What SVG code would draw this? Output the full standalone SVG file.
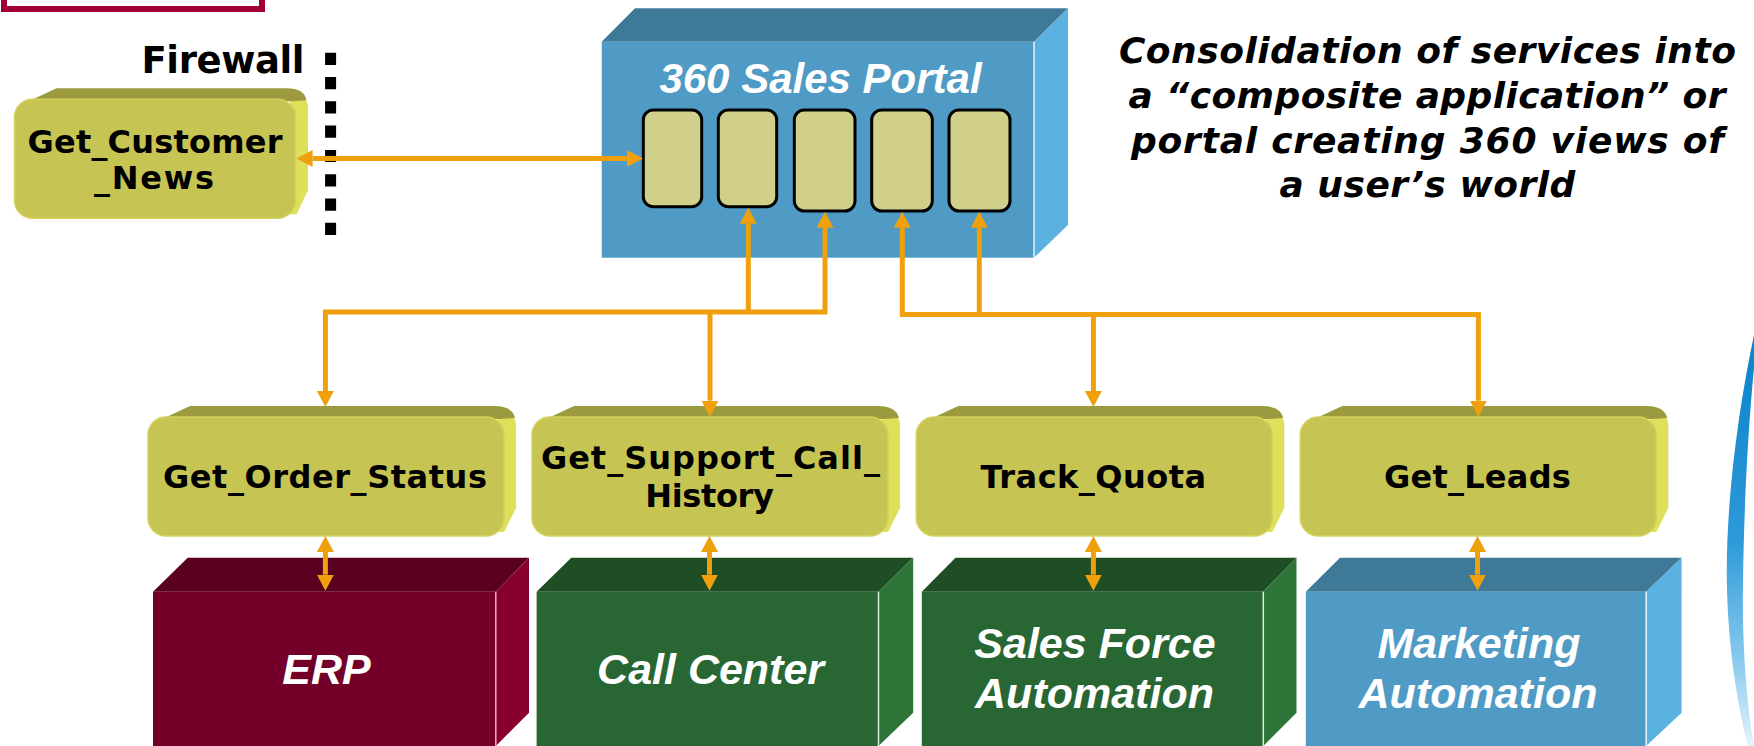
<svg xmlns="http://www.w3.org/2000/svg" width="1754" height="746" viewBox="0 0 1754 746">
<style>
.svc{font-family:"DejaVu Sans",Verdana,sans-serif;font-weight:bold;font-size:32px;fill:#000;text-anchor:middle}
.sys{font-family:"Liberation Sans",Arial,sans-serif;font-weight:bold;font-style:italic;font-size:43px;fill:#fff;text-anchor:middle}
.desc{font-family:"DejaVu Sans",Verdana,sans-serif;font-weight:bold;font-style:italic;font-size:36px;fill:#000;text-anchor:middle}
.conn{fill:none;stroke:#f0a00c;stroke-width:5}
.yf{fill:#c6c453;stroke:#d3d25e;stroke-width:1.5}
.yt{fill:#9c9a3e}
.yr{fill:#dfdf5a}
.slot{fill:#d0d08a;stroke:#000;stroke-width:3}
</style>
<defs>
<marker id="ah" viewBox="0 0 16 17" refX="0" refY="8.5" markerWidth="16" markerHeight="17" markerUnits="userSpaceOnUse" orient="auto-start-reverse">
<path d="M0,0 L16,8.5 L0,17 Z" fill="#f0a00c"/>
</marker>
<g id="svc368">
<path class="yr" d="M350,6 Q366,4 368,18 L368,102 L356,126 L348,126 Z"/>
<path class="yt" d="M12,14 L42,0 L346,0 Q364,0 367,12 L352,13 Z"/>
<rect class="yf" x="0" y="11" width="356" height="119" rx="18"/>
</g>
<linearGradient id="sw" x1="0" y1="0" x2="0" y2="1">
<stop offset="0" stop-color="#0a82cb"/>
<stop offset="0.5" stop-color="#2d9ad9"/>
<stop offset="0.8" stop-color="#8ccbef"/>
<stop offset="1" stop-color="#e4f3fc"/>
</linearGradient>
</defs>

<rect x="4" y="-60" width="258" height="69" fill="none" stroke="#a00035" stroke-width="6"/>

<g id="firewall">
<text x="223" y="72.7" class="svc" style="font-size:37px" textLength="163">Firewall</text>
<line x1="330.6" y1="52.7" x2="330.6" y2="235" stroke="#000" stroke-width="11" stroke-dasharray="12.2 12.1"/>
</g>

<g id="portal">
<polygon points="601.7,41.7 635,8.3 1068,8.3 1034,41.7" fill="#3e7998"/>
<polygon points="1034,41.7 1068,8.3 1068,225 1034,257.7" fill="#5bb2e1"/>
<rect x="601.7" y="41.7" width="432.3" height="216" fill="#4f9bc5"/>
<line x1="1034" y1="41.7" x2="1034" y2="257.7" stroke="#e6f3fa" stroke-width="1.5"/>
<text x="820.5" y="93.3" class="sys" style="font-size:42px">360 Sales Portal</text>
<rect class="slot" x="643.3" y="110" width="58.4" height="96.7" rx="10"/>
<rect class="slot" x="718.3" y="110" width="58.4" height="96.7" rx="10"/>
<rect class="slot" x="794.3" y="110" width="60.7" height="101" rx="10"/>
<rect class="slot" x="871.7" y="110" width="60.6" height="101" rx="10"/>
<rect class="slot" x="949" y="110" width="61" height="101" rx="10"/>
</g>

<g id="desc">
<text x="1427.4" y="63.3" class="desc" textLength="617">Consolidation of services into</text>
<text x="1427" y="108.3" class="desc" textLength="597">a “composite application” or</text>
<text x="1427.5" y="152.7" class="desc" textLength="593">portal creating 360 views of</text>
<text x="1427.4" y="196.7" class="desc" textLength="296">a user’s world</text>
</g>

<g id="get-customer-news">
<g transform="translate(14.5,88.3)">
<path class="yr" d="M276,6 Q291,4 293.5,18 L293.5,102 L282,126 L274,126 Z"/>
<path class="yt" d="M12,14 L42,0 L272,0 Q290,0 292,12 L278,13 Z"/>
<rect class="yf" x="0" y="11" width="281" height="119" rx="18"/>
</g>
<text x="155" y="153.3" class="svc" textLength="255">Get_Customer</text>
<text x="154" y="189.3" class="svc" textLength="120">_News</text>
</g>

<g id="erp">
<polygon points="153,591.7 187.7,557.7 529,557.7 495.8,591.7" fill="#5a0020"/>
<polygon points="495.8,591.7 529,557.7 529,712.7 495.8,746" fill="#870030"/>
<rect x="153" y="591.7" width="342.8" height="160" fill="#730028"/>
<line x1="495.8" y1="591.7" x2="495.8" y2="746" stroke="#f0a8c8" stroke-width="1.5"/>
<text x="326.5" y="684" class="sys">ERP</text>
</g>

<g id="call-center">
<polygon points="536.6,591.7 571.3,557.7 913.2,557.7 878.5,591.7" fill="#1f4d24"/>
<polygon points="878.5,591.7 913.2,557.7 913.2,712.7 878.5,746" fill="#2e7438"/>
<rect x="536.6" y="591.7" width="341.9" height="160" fill="#286634"/>
<line x1="878.5" y1="591.7" x2="878.5" y2="746" stroke="#d8eed8" stroke-width="1.5"/>
<text x="710.6" y="684" class="sys">Call Center</text>
</g>

<g id="sales-force-automation">
<polygon points="921.8,591.7 955.5,557.7 1296.5,557.7 1263.3,591.7" fill="#1f4d24"/>
<polygon points="1263.3,591.7 1296.5,557.7 1296.5,712.7 1263.3,746" fill="#2e7438"/>
<rect x="921.8" y="591.7" width="341.5" height="160" fill="#286634"/>
<line x1="1263.3" y1="591.7" x2="1263.3" y2="746" stroke="#d8eed8" stroke-width="1.5"/>
<text x="1095" y="658.3" class="sys">Sales Force</text>
<text x="1094.5" y="708.3" class="sys">Automation</text>
</g>

<g id="marketing-automation">
<polygon points="1305.8,591.7 1340,557.7 1681.6,557.7 1646.2,591.7" fill="#3e7998"/>
<polygon points="1646.2,591.7 1681.6,557.7 1681.6,712.7 1646.2,746" fill="#5bb2e1"/>
<rect x="1305.8" y="591.7" width="340.4" height="160" fill="#4f9bc5"/>
<line x1="1646.2" y1="591.7" x2="1646.2" y2="746" stroke="#e6f3fa" stroke-width="1.5"/>
<text x="1479" y="658.3" class="sys">Marketing</text>
<text x="1478" y="708.3" class="sys">Automation</text>
</g>

<g id="get-order-status">
<use href="#svc368" transform="translate(148,406)"/>
<text x="325" y="487.7" class="svc" textLength="324">Get_Order_Status</text>
</g>
<g id="get-support-call-history">
<use href="#svc368" transform="translate(532,406)"/>
<text x="710.4" y="469.3" class="svc" textLength="339">Get_Support_Call_</text>
<text x="709.6" y="506.7" class="svc" textLength="128.6">History</text>
</g>
<g id="track-quota">
<use href="#svc368" transform="translate(916.3,406)"/>
<text x="1093.3" y="487.7" class="svc" textLength="225.5">Track_Quota</text>
</g>
<g id="get-leads">
<use href="#svc368" transform="translate(1300.3,406)"/>
<text x="1477.4" y="487.7" class="svc" textLength="187">Get_Leads</text>
</g>

<g id="connectors">
<path class="conn" d="M312.6,158.5 L627,158.5" marker-start="url(#ah)" marker-end="url(#ah)"/>
<path class="conn" d="M748.3,223.7 V312" marker-start="url(#ah)"/>
<path class="conn" d="M825,227.7 V312 H325.4 V391" marker-start="url(#ah)" marker-end="url(#ah)"/>
<path class="conn" d="M710,312 V400.7" marker-end="url(#ah)"/>
<path class="conn" d="M902.3,227.7 V314.5 H1478.4 V400.7" marker-start="url(#ah)" marker-end="url(#ah)"/>
<path class="conn" d="M979.3,227.7 V314.5" marker-start="url(#ah)"/>
<path class="conn" d="M1093.4,314.5 V391" marker-end="url(#ah)"/>
<path class="conn" d="M325.4,552 V574.7" marker-start="url(#ah)" marker-end="url(#ah)"/>
<path class="conn" d="M709.5,552 V574.7" marker-start="url(#ah)" marker-end="url(#ah)"/>
<path class="conn" d="M1093.4,552 V574.7" marker-start="url(#ah)" marker-end="url(#ah)"/>
<path class="conn" d="M1477.5,552 V574.7" marker-start="url(#ah)" marker-end="url(#ah)"/>
</g>

<path d="M1754,335 C1736,420 1725,515 1727,590 C1729,660 1740,715 1748,746 L1754,746 C1746,700 1742,640 1743,582 C1744,500 1749,420 1754,368 Z" fill="url(#sw)"/>
</svg>
